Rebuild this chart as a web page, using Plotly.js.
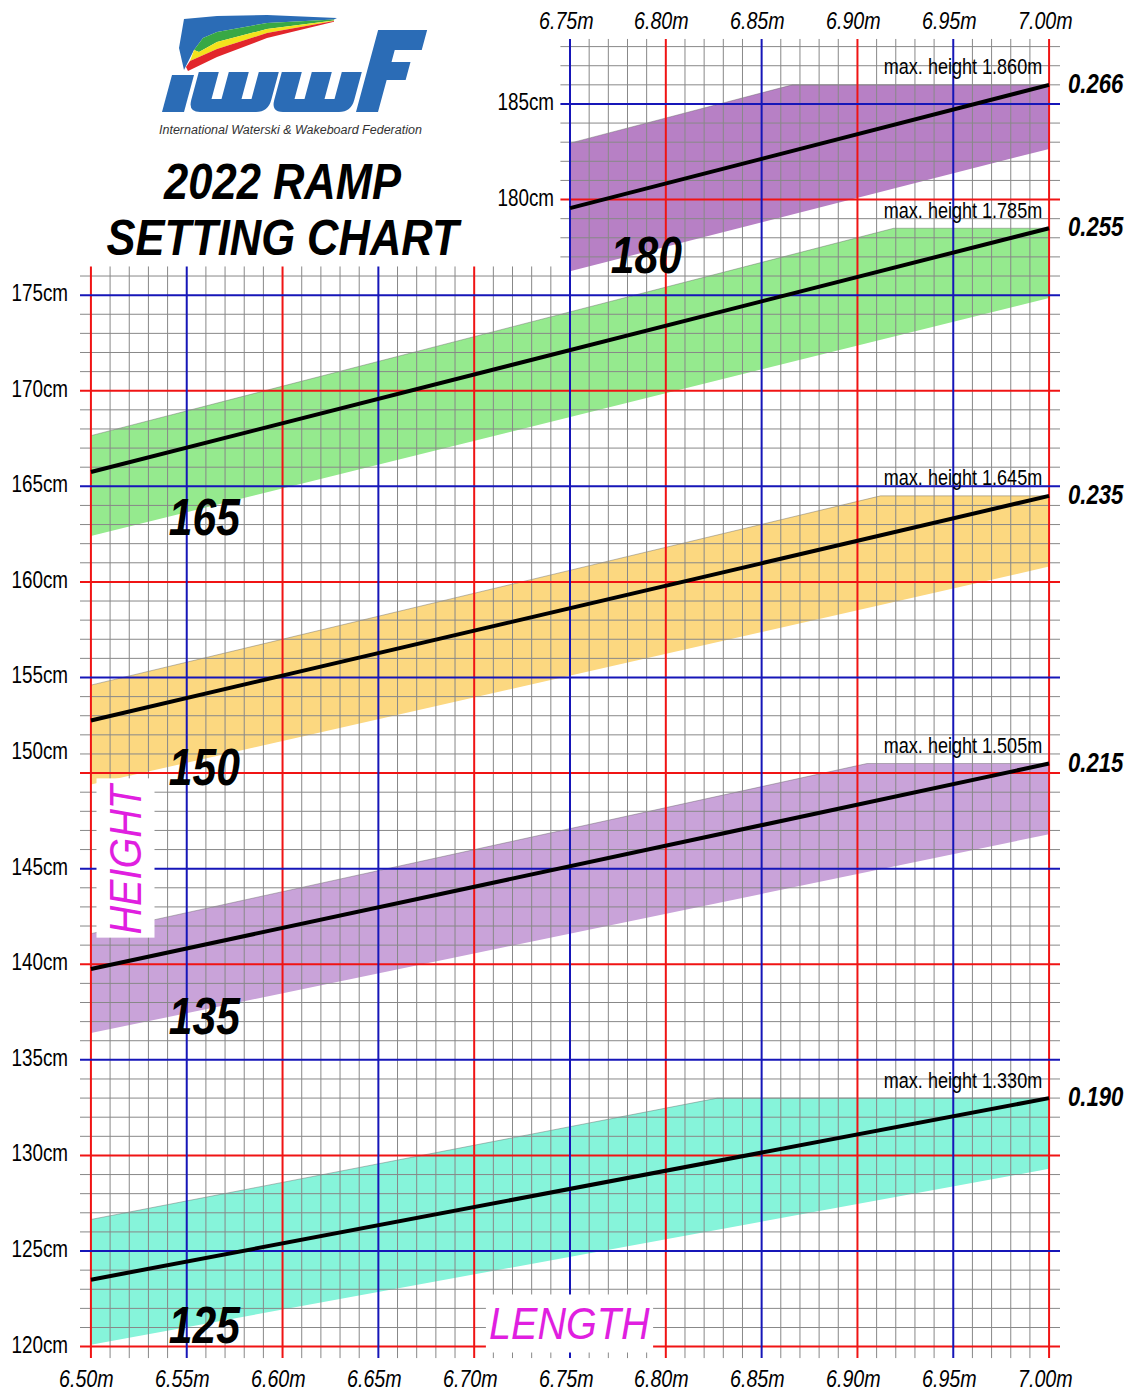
<!DOCTYPE html>
<html><head><meta charset="utf-8">
<script src="https://cdn.plot.ly/plotly-3.0.1.min.js"></script>
<style>html,body{margin:0;padding:0;background:#fff}#chart{width:1130px;height:1391px}</style>
</head><body><div id="chart"></div>
<script>
// ---------------- data ----------------
const bandNames  = ['125', '135', '150', '165', '180'];
const ratioLabels = ['0.190', '0.215', '0.235', '0.255', '0.266'];
const maxHeightLabels = ['max. height 1.330m', 'max. height 1.505m', 'max. height 1.645m', 'max. height 1.785m', 'max. height 1.860m'];
// upper edge of each tolerance band (length m, height cm)
const upperX = [[6.50, 6.827, 7.00], [6.50, 6.905, 7.00], [6.50, 6.912, 7.00], [6.50, 6.919, 7.00], [6.75, 6.866, 7.00]];
const upperY = [[126.65, 133.0, 133.0], [141.6, 150.5, 150.5], [154.6, 164.5, 164.5], [167.65, 178.5, 178.5], [182.95, 186.0, 186.0]];
// lower edge of each band
const lowerX = [[6.50, 7.00], [6.50, 7.00], [6.50, 7.00], [6.50, 7.00], [6.75, 7.00]];
const lowerY = [[120.1, 129.3], [136.4, 146.8], [149.4, 160.8], [162.4, 174.85], [176.25, 182.65]];
// ratio lines
const lineX = [[6.50, 7.00], [6.50, 7.00], [6.50, 7.00], [6.50, 7.00], [6.75, 7.00]];
const lineY = [[123.5, 133.0], [139.75, 150.5], [152.75, 164.5], [165.75, 178.5], [179.55, 186.0]];
// axis ticks
const xTickVals = [6.50, 6.55, 6.60, 6.65, 6.70, 6.75, 6.80, 6.85, 6.90, 6.95, 7.00];
const xTickText = ['6.50m', '6.55m', '6.60m', '6.65m', '6.70m', '6.75m', '6.80m', '6.85m', '6.90m', '6.95m', '7.00m'];
const topTickVals = [6.75, 6.80, 6.85, 6.90, 6.95, 7.00];
const topTickText = ['6.75m', '6.80m', '6.85m', '6.90m', '6.95m', '7.00m'];
const yTickVals = [120, 125, 130, 135, 140, 145, 150, 155, 160, 165, 170, 175, 180, 185];
const yTickText = ['120cm', '125cm', '130cm', '135cm', '140cm', '145cm', '150cm', '155cm', '160cm', '165cm', '170cm', '175cm', '180cm', '185cm'];

// ---------------- styling / layout ----------------
const bandColors = ['#86f4da', '#c9a3d9', '#fcd880', '#95ea8e', '#b780c5'];
const FONT = 'Liberation Sans, Arial, sans-serif';
const XR = [6.4943, 7.0057], YR = [119.3, 188.45];
const M = {l: 80, r: 70, t: 38, b: 31};
const W = 1130, H = 1391;
const pw = W - M.l - M.r, ph = H - M.t - M.b;
const px2paperX = px => (px - M.l) / pw;
const py2paperY = py => (H - M.b - py) / ph;
const P = (x, y) => px2paperX(x).toFixed(5) + ',' + py2paperY(y).toFixed(5);

const traces = [];
bandNames.forEach((n, i) => {
  traces.push({
    type: 'scatter', mode: 'lines', fill: 'toself', fillcolor: bandColors[i],
    x: upperX[i].concat(lowerX[i].slice().reverse()),
    y: upperY[i].concat(lowerY[i].slice().reverse()),
    line: {width: 0, color: bandColors[i]}, hoverinfo: 'skip', showlegend: false
  });
  traces.push({
    type: 'scatter', mode: 'lines', x: upperX[i], y: upperY[i],
    line: {width: 0.8, color: 'rgba(90,90,90,0.5)'}, hoverinfo: 'skip', showlegend: false
  });
});

// grid
const LEFT_TOP = 176.5, INSET_X = 6.745;
function vLines(xs) {
  const x = [], y = [];
  xs.forEach(v => { x.push(v, v, null); y.push(119.4, v >= INSET_X ? 188.4 : LEFT_TOP, null); });
  return {x, y};
}
function hLines(ys) {
  const x = [], y = [];
  ys.forEach(v => { x.push(v <= 176 ? XR[0] : INSET_X, XR[1], null); y.push(v, v, null); });
  return {x, y};
}
const minorX = [], redX = [], blueX = [];
for (let i = 0; i <= 50; i++) {
  const v = +(6.50 + i * 0.01).toFixed(2);
  if (i % 10 === 0) redX.push(v); else if (i % 5 === 0) blueX.push(v); else minorX.push(v);
}
const minorY = [], redY = [], blueY = [];
for (let v = 120; v <= 188; v++) {
  if (v % 10 === 0) redY.push(v); else if (v % 5 === 0) blueY.push(v); else minorY.push(v);
}
function gridTrace(g, color, width) {
  return {type: 'scatter', mode: 'lines', x: g.x, y: g.y, connectgaps: false,
          line: {color, width}, hoverinfo: 'skip', showlegend: false};
}
traces.push(gridTrace(vLines(minorX), '#888888', 1));
traces.push(gridTrace(hLines(minorY), '#888888', 1));
traces.push(gridTrace(vLines(redX), '#f01414', 2));
traces.push(gridTrace(hLines(redY), '#f01414', 2));
traces.push(gridTrace(vLines(blueX), '#1616b8', 2));
traces.push(gridTrace(hLines(blueY), '#1616b8', 2));

lineX.forEach((lx, i) => traces.push({
  type: 'scatter', mode: 'lines', x: lx, y: lineY[i],
  line: {color: '#000', width: 4}, hoverinfo: 'skip', showlegend: false
}));

// ---------------- annotations ----------------
const ann = [], squeeze = [];   // squeeze: horizontal compression to mimic a narrow face
function addAnn(a, sx) { ann.push(a); squeeze.push(sx || 0); }

yTickVals.forEach((v, i) => addAnn({
  xref: 'x', yref: 'y', x: v >= 180 ? 6.75 : 6.50, y: v, xanchor: 'right', yanchor: 'middle',
  xshift: v >= 180 ? -14 : -21, yshift: v === 150 ? 22 : 2, showarrow: false,
  text: yTickText[i], font: {family: FONT, size: 23, color: '#000'}
}, 0.82));
xTickVals.forEach((v, i) => addAnn({
  xref: 'x', yref: 'paper', x: v, y: 0, yanchor: 'middle', xanchor: 'center', yshift: -18, xshift: -4,
  showarrow: false, text: xTickText[i], font: {family: FONT, size: 24, style: 'italic', color: '#000'}
}, 0.82));
topTickVals.forEach((v, i) => addAnn({
  xref: 'x', yref: 'paper', x: v, y: 1, yanchor: 'middle', xanchor: 'center', yshift: 18, xshift: -4,
  showarrow: false, text: topTickText[i], font: {family: FONT, size: 24, style: 'italic', color: '#000'}
}, 0.82));
bandNames.forEach((n, i) => {
  const last = upperY[i].length - 1;
  addAnn({xref: 'x', yref: 'y', x: upperX[i][last], y: upperY[i][last], xanchor: 'right', yanchor: 'middle',
    xshift: -5, yshift: 18, showarrow: false, text: maxHeightLabels[i],
    font: {family: FONT, size: 22, color: '#000'}}, 0.82);
  const ll = lineY[i].length - 1;
  addAnn({xref: 'x', yref: 'y', x: lineX[i][ll], y: lineY[i][ll], xanchor: 'left', yanchor: 'middle',
    xshift: 17, yshift: 1, showarrow: false, text: ratioLabels[i],
    font: {family: FONT, size: 27, weight: 'bold', style: 'italic', color: '#000'}}, 0.82);
});
const bandLabelPos = [[6.5595, 121.15], [6.5595, 137.31], [6.5595, 150.33], [6.5595, 163.41], [6.7897, 177.11]];
bandNames.forEach((n, i) => addAnn({
  xref: 'x', yref: 'y', x: bandLabelPos[i][0], y: bandLabelPos[i][1], xanchor: 'center', yanchor: 'middle',
  showarrow: false, text: n, font: {family: FONT, size: 52, weight: 'bold', style: 'italic', color: '#000'}
}, 0.82));
addAnn({xref: 'paper', yref: 'paper', x: px2paperX(125), y: py2paperY(858), xanchor: 'center', yanchor: 'middle',
  showarrow: false, text: 'HEIGHT', textangle: -90, bgcolor: '#fff', borderpad: 3,
  font: {family: FONT, size: 45, style: 'italic', color: '#e01fe0'}}, 0.88);
addAnn({xref: 'paper', yref: 'paper', x: px2paperX(569), y: py2paperY(1323), xanchor: 'center', yanchor: 'middle',
  showarrow: false, text: 'LENGTH', bgcolor: '#fff', borderpad: 3,
  font: {family: FONT, size: 45, style: 'italic', color: '#e01fe0'}}, 0.88);
const TITLE_IDX = ann.length;
addAnn({xref: 'paper', yref: 'paper', x: px2paperX(284), y: py2paperY(215), xanchor: 'center', yanchor: 'middle',
  showarrow: false, text: '2022 RAMP<br>SETTING CHART',
  font: {family: FONT, size: 50, weight: 'bold', style: 'italic', color: '#000'}}, 0.87);
addAnn({xref: 'paper', yref: 'paper', x: px2paperX(290), y: py2paperY(130), xanchor: 'center', yanchor: 'middle',
  showarrow: false, text: 'International Waterski &amp; Wakeboard Federation',
  font: {family: FONT, size: 12.5, style: 'italic', color: '#333'}}, 0);

// ---------------- logo (decorative drawing, paper coords) ----------------
const SK = 0.27, BASE = 112;
const K = (x, y) => P(x + SK * (BASE - y), y);
function poly(pts) { return 'M' + pts.map(p => K(p[0], p[1])).join(' L') + ' Z'; }
function wPath(x0) {
  const a = 20, g = 10, t = 72, d = 99;
  return 'M' + K(x0, t) + ' L' + K(x0 + a, t) + ' L' + K(x0 + a, d) + ' L' + K(x0 + a + g, d) + ' L' + K(x0 + a + g, t) +
    ' L' + K(x0 + 2 * a + g, t) + ' L' + K(x0 + 2 * a + g, d) + ' L' + K(x0 + 2 * a + 2 * g, d) + ' L' + K(x0 + 2 * a + 2 * g, t) +
    ' L' + K(x0 + 80, t) + ' L' + K(x0 + 80, 100) + ' Q' + K(x0 + 80, 112) + ' ' + K(x0 + 68, 112) +
    ' L' + K(x0 + 12, 112) + ' Q' + K(x0, 112) + ' ' + K(x0, 100) + ' Z';
}
const BLUE = '#2b6cb6';
const logoShape = (path, color) => ({type: 'path', xref: 'paper', yref: 'paper', layer: 'above',
  line: {width: 0}, fillcolor: color, path});
const plain = pts => 'M' + pts.map(p => P(p[0], p[1])).join(' L') + ' Z';
const shapes = [
  logoShape(poly([[162, 112], [184, 112], [184, 75], [162, 75]]), BLUE),
  logoShape(wPath(188), BLUE),
  logoShape(wPath(271), BLUE),
  logoShape(poly([[356, 112], [356, 30], [405, 30], [405, 50], [378, 50], [378, 62], [397, 62], [397, 80], [378, 80], [378, 112]]), BLUE),
  // swoosh
  logoShape(plain([[184, 19], [217, 16], [267, 15], [337, 18], [334, 19.5], [267, 23], [217, 32], [203, 38], [194, 50], [184, 70], [179, 48]]), BLUE),
  logoShape(plain([[203, 38], [217, 32], [267, 23], [334, 19.5], [334, 20.5], [267, 29], [217, 42], [199, 52], [194, 50]]), '#38a845'),
  logoShape(plain([[194, 50], [199, 52], [217, 42], [267, 29], [334, 20.5], [334, 21], [267, 33], [217, 49], [190, 61]]), '#f3e31c'),
  logoShape(plain([[190, 61], [217, 49], [267, 33], [334, 21], [334, 21.8], [267, 38], [217, 57], [188, 71], [186, 67]]), '#e2262b')
];

const layout = {
  width: W, height: H, margin: M, paper_bgcolor: '#fff', plot_bgcolor: '#fff',
  showlegend: false,
  xaxis: {range: XR, visible: false, fixedrange: true},
  yaxis: {range: YR, visible: false, fixedrange: true},
  annotations: ann, shapes: shapes
};
Plotly.newPlot('chart', traces, layout, {staticPlot: true, displayModeBar: false}).then(gd => {
  gd.querySelectorAll('g.annotation').forEach(g => {
    const idx = +g.getAttribute('data-index');
    const a = ann[idx], sx = squeeze[idx];
    if (idx === TITLE_IDX) {
      const lines = g.querySelectorAll('tspan.line');
      if (lines.length > 1) lines[1].setAttribute('dy', '1.12em');
    }
    if (!sx) return;
    const origin = a.xanchor === 'right' ? 'right center' : a.xanchor === 'left' ? 'left center' : 'center';
    const els = [g.querySelector('text.annotation-text')];
    if (a.bgcolor) els.push(g.querySelector('rect.bg'));
    els.forEach(el => {
      if (!el) return;
      el.style.transformBox = 'fill-box';
      el.style.transformOrigin = origin;
      el.style.transform = 'scaleX(' + sx + ')';
    });
  });
});
</script></body></html>
